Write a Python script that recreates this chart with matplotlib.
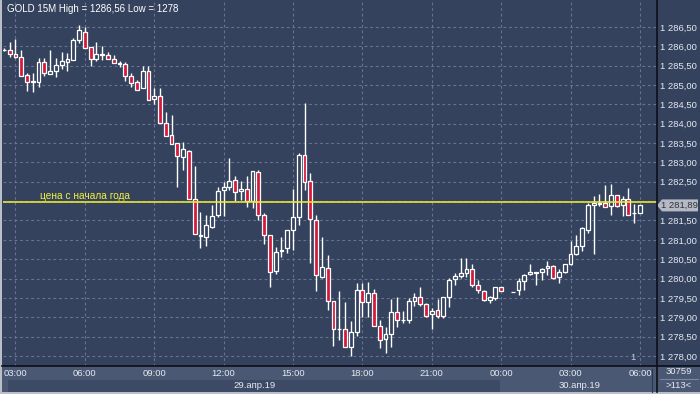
import numpy as np
import matplotlib.pyplot as plt
from matplotlib.patches import Rectangle, Polygon
from matplotlib.lines import Line2D

plt.rcParams['font.family'] = ['Liberation Sans', 'DejaVu Sans']

# === GOLD 15M, 29.04.19 02:30 -> 30.04.19 06:00 (None = no bar) ===
opens = [1285.90, 1285.91, 1285.80, 1285.72, 1285.26, 1285.09, 1285.07, 1285.59, 1285.28, 1285.37,
         1285.52, 1285.60, 1285.65, 1286.16, 1286.38, 1285.97, 1285.67, 1285.77, 1285.77, 1285.67,
         1285.56, 1285.54, 1285.23, 1285.07, 1284.92, 1285.36, 1284.63, 1284.71, 1284.03, 1283.71,
         1283.49, 1283.13, 1283.30, 1282.05, 1281.12, 1281.07, 1281.34, 1281.64, 1282.28, 1282.37,
         1282.55, 1282.26, 1282.31, 1282.00, 1282.75, 1281.63, 1281.12, 1280.20, 1280.71, 1280.78,
         1281.25, 1281.58, 1283.19, 1282.51, 1281.51, 1280.05, 1280.27, 1279.43, 1278.69, 1278.70,
         1278.22, 1278.63, 1279.70, 1279.40, 1279.62, 1278.78, 1278.43, 1278.56, 1279.13, 1278.93,
         1278.94, 1279.42, 1279.52, 1279.34, 1279.08, 1279.19, 1279.04, 1279.53, 1279.98, 1280.06,
         1280.13, 1280.25, 1279.83, 1279.69, 1279.45, 1279.49, 1279.77, None, 1279.64, 1279.70,
         1279.94, 1280.11, 1280.16, 1280.17, 1280.27, 1280.33, 1280.03, 1280.16, 1280.37, 1280.63,
         1280.84, 1281.25, 1281.90, 1281.93, 1281.94, 1281.87, 1282.15, 1281.89, 1282.06, 1281.68,
         1281.69]
highs = [1285.95, 1286.12, 1286.19, 1285.91, 1285.31, 1285.31, 1285.70, 1285.70, 1285.91, 1285.70,
         1285.84, 1285.82, 1286.21, 1286.56, 1286.51, 1285.97, 1286.10, 1286.01, 1285.86, 1285.77,
         1285.62, 1285.59, 1285.32, 1285.13, 1285.49, 1285.49, 1284.92, 1284.92, 1284.31, 1284.23,
         1283.49, 1283.54, 1283.32, 1282.92, 1281.72, 1281.64, 1281.90, 1282.37, 1282.50, 1283.12,
         1282.65, 1282.53, 1282.65, 1282.77, 1282.80, 1281.69, 1281.12, 1280.82, 1281.08, 1281.25,
         1282.32, 1283.25, 1284.54, 1282.72, 1281.64, 1281.08, 1280.61, 1279.43, 1279.68, 1279.40,
         1278.90, 1279.89, 1279.89, 1279.92, 1279.72, 1278.93, 1278.74, 1279.47, 1279.53, 1279.16,
         1279.49, 1279.62, 1279.77, 1279.36, 1279.23, 1279.46, 1279.52, 1280.01, 1280.15, 1280.52,
         1280.52, 1280.37, 1279.96, 1279.70, 1279.54, 1279.79, 1279.79, None, 1279.65, 1280.01,
         1280.12, 1280.38, 1280.18, 1280.26, 1280.46, 1280.35, 1280.24, 1280.37, 1280.98, 1281.13,
         1281.33, 1281.96, 1282.13, 1282.18, 1282.42, 1282.44, 1282.17, 1282.13, 1282.33, 1281.93,
         1281.90]
lows = [1285.87, 1285.72, 1285.71, 1285.22, 1284.85, 1284.83, 1284.96, 1285.22, 1285.28, 1285.21,
        1285.41, 1285.37, 1285.65, 1286.08, 1285.95, 1285.50, 1285.63, 1285.65, 1285.67, 1285.56,
        1285.47, 1285.10, 1284.96, 1284.87, 1284.92, 1284.61, 1284.50, 1284.03, 1283.67, 1283.47,
        1282.36, 1282.80, 1282.05, 1281.15, 1280.78, 1280.84, 1281.30, 1281.60, 1281.62, 1282.29,
        1281.99, 1282.03, 1281.84, 1281.82, 1281.51, 1280.89, 1279.79, 1280.12, 1280.56, 1280.65,
        1280.74, 1281.38, 1282.29, 1280.41, 1279.68, 1280.01, 1279.19, 1278.26, 1278.41, 1278.22,
        1278.00, 1278.52, 1279.01, 1279.01, 1278.78, 1278.20, 1278.08, 1278.22, 1278.74, 1278.84,
        1278.84, 1279.29, 1279.29, 1279.01, 1278.69, 1278.97, 1278.97, 1279.26, 1279.83, 1280.01,
        1280.05, 1279.77, 1279.62, 1279.42, 1279.38, 1279.45, 1279.67, None, 1279.64, 1279.57,
        1279.70, 1280.09, 1279.83, 1279.96, 1280.09, 1280.00, 1279.89, 1280.14, 1280.35, 1280.61,
        1280.72, 1281.18, 1280.63, 1281.87, 1281.86, 1281.64, 1281.86, 1281.62, 1281.63, 1281.44,
        1281.68]
closes = [1285.91, 1285.80, 1285.72, 1285.24, 1285.09, 1285.10, 1285.59, 1285.30, 1285.36, 1285.52,
          1285.61, 1285.67, 1286.16, 1286.42, 1285.95, 1285.67, 1285.79, 1285.79, 1285.67, 1285.56,
          1285.55, 1285.24, 1285.05, 1284.87, 1285.36, 1284.61, 1284.71, 1284.03, 1283.67, 1283.47,
          1283.17, 1283.34, 1282.05, 1281.15, 1281.10, 1281.37, 1281.62, 1282.27, 1282.37, 1282.52,
          1282.23, 1282.31, 1282.00, 1282.77, 1281.63, 1281.12, 1280.18, 1280.69, 1280.74, 1281.25,
          1281.58, 1283.19, 1282.49, 1281.53, 1280.08, 1280.29, 1279.43, 1278.69, 1278.70, 1278.22,
          1278.61, 1279.70, 1279.40, 1279.62, 1278.78, 1278.41, 1278.56, 1279.13, 1278.93, 1278.94,
          1279.42, 1279.52, 1279.34, 1279.04, 1279.15, 1279.04, 1279.52, 1279.96, 1280.07, 1280.14,
          1280.25, 1279.82, 1279.70, 1279.45, 1279.52, 1279.77, 1279.67, None, 1279.65, 1279.94,
          1280.09, 1280.16, 1280.15, 1280.24, 1280.33, 1280.02, 1280.16, 1280.37, 1280.63, 1280.84,
          1281.30, 1281.90, 1281.96, 1281.96, 1281.86, 1282.15, 1281.87, 1282.06, 1281.63, 1281.69,
          1281.89]

time_labels = ["03:00", "06:00", "09:00", "12:00", "15:00", "18:00", "21:00", "00:00", "03:00", "06:00"]
first_tick = 2          # bar index of 29.04 03:00
ytd_price = 1281.97     # "цена с начала года"
last_price = 1281.89
y_ticks = np.arange(1278.0, 1286.51, 0.5)

# === colours ===
BG = "#34425e"
GRID = "#66748f"
RED = "#d4193a"
TXT = "#e6e9f0"
PANEL = "#4a5873"
W, H = 700, 394

fig = plt.figure(figsize=(W / 100, H / 100), dpi=100)
fig.patch.set_facecolor(BG)


def px_rect(x0, y0, x1, y1, color, z=1):
    fig.patches.append(Rectangle((x0 / W, 1 - y1 / H), (x1 - x0) / W, (y1 - y0) / H,
                                 transform=fig.transFigure, facecolor=color,
                                 edgecolor="none", zorder=z))


def px_line(x0, y0, x1, y1, color, lw=1.0, z=3):
    fig.lines.append(Line2D([x0 / W, x1 / W], [1 - y0 / H, 1 - y1 / H],
                            transform=fig.transFigure, color=color, lw=lw, zorder=z))


# === main chart ===
ax = fig.add_axes([3 / W, 28 / H, 654 / W, 365 / H])
ax.set_facecolor(BG)
ax.set_xlim(-0.15, 112.95)
ax.set_ylim(1277.74, 1287.17)

for yv in y_ticks:
    ax.axhline(yv, color=GRID, lw=0.8, dashes=(2.5, 2.5), zorder=0)
tick_pos = [first_tick + 12 * i for i in range(len(time_labels))]
for xv in tick_pos:
    ax.axvline(xv, color=GRID, lw=0.8, dashes=(2.5, 2.5), zorder=0)

for i, (o, h, l, c) in enumerate(zip(opens, highs, lows, closes)):
    if o is None:
        continue
    ax.vlines(i, l, h, color="white", lw=1.0, zorder=2)
    up = c >= o
    ax.bar(i, max(abs(c - o), 0.001), bottom=min(o, c), width=0.66,
           facecolor=BG if up else RED, edgecolor="white", lw=0.9, zorder=3)

ax.axhline(ytd_price, color="#e6e632", lw=1.2, zorder=4)
ax.text(6.3, ytd_price + 0.17, "цена с начала года", color="#f2f23a", fontsize=7.3,
        va="center", ha="left", zorder=5)

ax.text(0.5, 1286.96, "GOLD 15M High = 1286,56 Low = 1278", color="white", fontsize=7,
        va="center", ha="left", zorder=5)

# the 1 282,00 label sits under the current-price tag, so it is left blank
ylabels = [f"{v:,.2f}".replace(",", " ").replace(".", ",") for v in y_ticks]
ylabels = ["" if abs(v - 1282.0) < 1e-6 else s for v, s in zip(y_ticks, ylabels)]
ax.yaxis.tick_right()
ax.set_yticks(y_ticks)
ax.set_yticklabels(ylabels)
ax.set_xticks(tick_pos)
ax.set_xticklabels(time_labels)
ax.tick_params(axis="y", length=0, pad=2.5, labelsize=6.8, labelcolor=TXT)
ax.tick_params(axis="x", length=0, pad=2.5, labelsize=6.8, labelcolor=TXT)
for s in ax.spines.values():
    s.set_visible(False)

# === bottom panels and frame ===
px_rect(0, 366, W, 392, PANEL, z=-1)
px_rect(8, 380, 500, 392, "#3c4a65", z=-1)
px_rect(0, 392, W, H, "#b9bec8", z=1)
px_rect(0, 0, 2, H, "#b9bec8", z=1)
px_line(657, 0, 657, 392, "#0c0f18", lw=1.2)
px_line(2, 366, W, 366, "#0c0f18", lw=1.2)
px_line(660, 379, 698, 379, "#7b879e", lw=0.8)
px_line(651.5, 369, 651.5, 392, "#2a3550", lw=0.8)

fig.text(255 / W, 1 - 386 / H, "29.апр.19", color=TXT, fontsize=6.8, ha="center", va="center")
fig.text(580 / W, 1 - 386 / H, "30.апр.19", color=TXT, fontsize=6.8, ha="center", va="center")
fig.text(679 / W, 1 - 372 / H, "30759", color=TXT, fontsize=6.8, ha="center", va="center")
fig.text(679 / W, 1 - 386 / H, ">113<", color=TXT, fontsize=6.8, ha="center", va="center")
fig.text(633 / W, 1 - 358 / H, "1", color="#c8ccd6", fontsize=6.8, ha="center", va="center")

# current price tag
ty = 27 + (1286.5 - last_price) * 38.7
tag = [(657, ty), (662, ty - 6), (698, ty - 6), (698, ty + 6), (662, ty + 6)]
fig.patches.append(Polygon([(x / W, 1 - y / H) for x, y in tag], closed=True,
                           transform=fig.transFigure, facecolor="#b4b9c3",
                           edgecolor="none", zorder=2))
fig.text(661 / W, 1 - ty / H, "1 281,89", color="#30343c", fontsize=6.8,
         ha="left", va="center", zorder=3)

fig.savefig("out.png", dpi=100, facecolor=fig.get_facecolor())
